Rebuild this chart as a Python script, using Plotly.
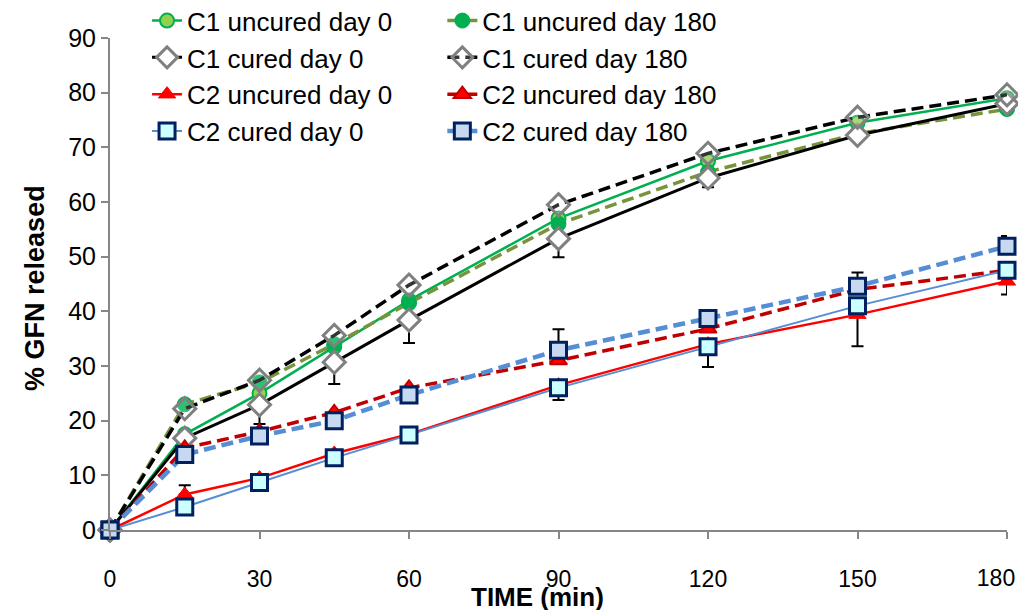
import plotly.graph_objects as go

# release time points (min)
time_min = [0, 15, 30, 45, 60, 90, 120, 150, 180]

# x tick labels; the last one goes on a helper axis so it can be nudged inside the window
x_tickvals = [0, 30, 60, 90, 120, 150, 180]
x_ticktext = ["0", "30", "60", "90", "120", "150", ""]
x_last_tickval = [180]
x_last_ticktext = ["180"]

# % GFN released
c1_uncured_d0 = [0, 17.5, 25.0, 33.5, 42.0, 57.0, 67.5, 74.5, 79.0]
c1_uncured_d180 = [0, 23.0, 27.0, 34.0, 41.5, 56.0, 65.5, 72.5, 77.0]
c1_cured_d0 = [0, 16.8, 22.9, 30.7, 38.4, 53.3, 64.4, 72.2, 78.0]
c1_cured_d180 = [0, 22.2, 27.4, 35.6, 44.8, 59.5, 68.9, 75.5, 79.6]
c2_uncured_d0 = [0, 6.5, 9.5, 14.0, 17.5, 26.5, 34.0, 39.4, 45.5]
c2_uncured_d180 = [0, 15.0, 18.0, 21.5, 26.0, 31.0, 36.8, 44.0, 47.5]
c2_cured_d0 = [0, 4.2, 8.7, 13.2, 17.4, 26.0, 33.5, 41.0, 47.5]
c2_cured_d180 = [0, 13.8, 17.2, 20.0, 24.7, 32.9, 38.7, 44.6, 51.9]

# visible error bar extents
c1_cured_d0_err_minus = [0, 0, 3.5, 4.0, 4.2, 3.4, 1.7, 0, 0]
c2_uncured_d0_err_plus = [0, 1.7, 0, 0, 0, 0, 0, 0, 0]
c2_uncured_d0_err_minus = [0, 0, 0, 0, 0, 0, 0, 5.8, 2.4]
c2_cured_d0_err_minus = [0, 0, 0, 0, 0, 2.2, 3.7, 0, 0]
c2_cured_d180_err_plus = [0, 0, 0, 0, 0, 3.8, 0, 2.5, 1.9]

zeros = [0] * len(time_min)
dash = "12px,6px"


def err(plus=None, minus=None):
    return dict(type="data", symmetric=False,
                array=plus if plus else zeros,
                arrayminus=minus if minus else zeros,
                color="black", thickness=2, width=6)


fig = go.Figure()

fig.add_trace(go.Scatter(
    x=time_min, y=c1_uncured_d0, name="C1 uncured day 0", mode="lines+markers", legend="legend",
    line=dict(color="#00B050", width=2.5),
    marker=dict(symbol="circle", size=14, color="#92D050", line=dict(color="#00B050", width=2)),
))
fig.add_trace(go.Scatter(
    x=time_min, y=c1_uncured_d180, name="C1 uncured day 180", mode="lines+markers", legend="legend2",
    line=dict(color="#77933C", width=3.5, dash=dash),
    marker=dict(symbol="circle", size=15, color="#00B050", line=dict(color="#00B050", width=1)),
))
fig.add_trace(go.Scatter(
    x=time_min, y=c1_cured_d0, name="C1 cured day 0", mode="lines+markers", legend="legend",
    line=dict(color="black", width=3),
    marker=dict(symbol="diamond", size=17, color="white", line=dict(color="#808080", width=3)),
    error_y=err(minus=c1_cured_d0_err_minus),
))
fig.add_trace(go.Scatter(
    x=time_min, y=c1_cured_d180, name="C1 cured day 180", mode="lines+markers", legend="legend2",
    line=dict(color="black", width=3.5, dash=dash),
    marker=dict(symbol="diamond", size=17, color="rgba(255,255,255,0.2)", line=dict(color="#808080", width=3)),
))
fig.add_trace(go.Scatter(
    x=time_min, y=c2_uncured_d0, name="C2 uncured day 0", mode="lines+markers", legend="legend",
    line=dict(color="#FF0000", width=2.5),
    marker=dict(symbol="triangle-up", size=15, color="#FF0000", line=dict(color="#FF0000", width=1)),
    error_y=err(plus=c2_uncured_d0_err_plus, minus=c2_uncured_d0_err_minus),
))
fig.add_trace(go.Scatter(
    x=time_min, y=c2_uncured_d180, name="C2 uncured day 180", mode="lines+markers", legend="legend2",
    line=dict(color="#C00000", width=3.5, dash=dash),
    marker=dict(symbol="triangle-up", size=15, color="#FF0000", line=dict(color="#C00000", width=2)),
))
fig.add_trace(go.Scatter(
    x=time_min, y=c2_cured_d0, name="C2 cured day 0", mode="lines+markers", legend="legend",
    line=dict(color="#558ED5", width=2),
    marker=dict(symbol="square", size=16, color="#CCFFFF", line=dict(color="#002060", width=3)),
    error_y=err(minus=c2_cured_d0_err_minus),
))
fig.add_trace(go.Scatter(
    x=time_min, y=c2_cured_d180, name="C2 cured day 180", mode="lines+markers", legend="legend2",
    line=dict(color="#558ED5", width=4.5, dash=dash),
    marker=dict(symbol="square", size=16, color="#C6D9F1", line=dict(color="#002060", width=3)),
    error_y=err(plus=c2_cured_d180_err_plus),
))

# empty trace so the helper axis for the last tick label is drawn
fig.add_trace(go.Scatter(
    x=time_min, y=zeros, xaxis="x2", mode="none", showlegend=False, hoverinfo="skip",
))

fig.update_traces(cliponaxis=False)

legend_font = dict(family="Liberation Sans, Arial, sans-serif", size=26, color="black")
x_tick_font = dict(family="Liberation Sans, Arial, sans-serif", size=23, color="black")

fig.update_layout(
    width=1026, height=602,
    margin=dict(l=102, r=27, t=30, b=80, autoexpand=False),
    paper_bgcolor="white", plot_bgcolor="white",
    showlegend=True,
    legend=dict(
        x=0.0413, xanchor="left", y=1.083, yanchor="top",
        bgcolor="rgba(0,0,0,0)", font=legend_font, traceorder="normal",
    ),
    legend2=dict(
        x=0.3705, xanchor="left", y=1.083, yanchor="top",
        bgcolor="rgba(0,0,0,0)", font=legend_font, traceorder="normal",
    ),
    xaxis=dict(
        range=[0, 180], tickvals=x_tickvals, ticktext=x_ticktext,
        showline=True, linecolor="#868686", linewidth=2,
        ticks="outside", ticklen=7, tickcolor="#868686", tickwidth=2,
        showgrid=False, zeroline=False, automargin=False,
        tickfont=x_tick_font, ticklabelstandoff=20,
    ),
    xaxis2=dict(
        range=[0, 180], overlaying="x", anchor="y", side="bottom",
        tickvals=x_last_tickval, ticktext=x_last_ticktext,
        showline=False, ticks="outside", ticklen=7, tickcolor="rgba(0,0,0,0)", tickwidth=2,
        showgrid=False, zeroline=False, automargin=False,
        tickfont=x_tick_font, ticklabelstandoff=20, ticklabelshift=-11,
    ),
    yaxis=dict(
        range=[0, 90], dtick=10,
        showline=True, linecolor="#868686", linewidth=2,
        ticks="outside", ticklen=7, tickcolor="#868686", tickwidth=2,
        showgrid=False, zeroline=False, automargin=False,
        tickfont=dict(family="Liberation Sans, Arial, sans-serif", size=25, color="black"),
    ),
    annotations=[
        dict(text="<b>TIME (min)</b>", xref="paper", yref="paper", x=0.477, y=-0.136,
             xanchor="center", yanchor="middle", showarrow=False,
             font=dict(family="Liberation Sans, Arial, sans-serif", size=26, color="black")),
        dict(text="<b>% GFN released</b>", xref="paper", yref="paper", x=-0.0836, y=0.492,
             xanchor="center", yanchor="middle", showarrow=False, textangle=-90,
             font=dict(family="Liberation Sans, Arial, sans-serif", size=27, color="black")),
    ],
)

fig.write_html("out.html")
